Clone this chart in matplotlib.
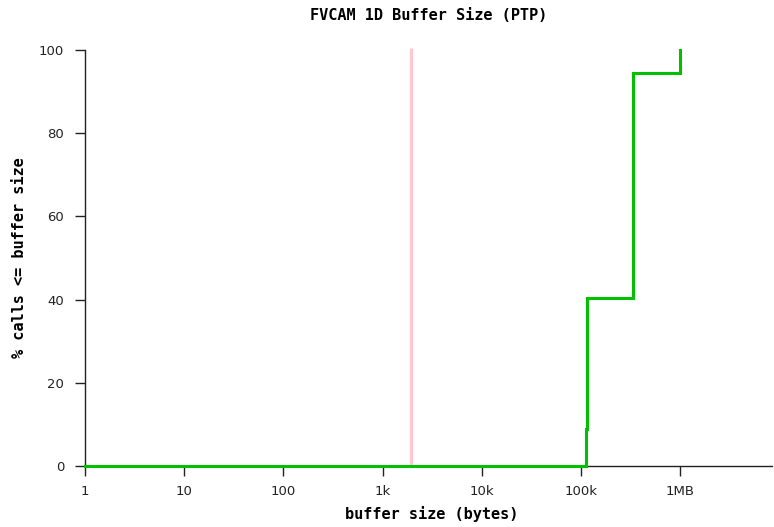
import matplotlib
matplotlib.use("Agg")
import matplotlib.pyplot as plt
from matplotlib.ticker import FixedLocator, NullLocator

# Cumulative distribution of buffer sizes (bytes -> % of calls <= size)
step_sizes = [1, 112000, 113500, 334000, 1000000, 1000000]
step_pct = [0.0, 9.0, 40.5, 94.5, 100.0]
marker_size = 1950  # reference buffer size

tick_values = [1, 10, 100, 1e3, 1e4, 1e5, 1e6]
tick_labels = ["1", "10", "100", "1k", "10k", "100k", "1MB"]
y_ticks = [0, 20, 40, 60, 80, 100]

x_max = 2 ** 23

W, H = 774, 527
fig = plt.figure(figsize=(W / 100, H / 100), dpi=100)
ax = fig.add_axes([85 / W, 1 - 466 / H, (772 - 85) / W, (466 - 50) / H])

ax.set_xscale("log")
ax.set_xlim(1, x_max)
ax.set_ylim(0, 100)

# Reference line
ax.plot([marker_size, marker_size], [0, 100.6], color="#ffc8cc", lw=2.3,
        solid_capstyle="butt", clip_on=False, zorder=2)

# Step CDF
xs, ys = [], []
for i, p in enumerate(step_pct):
    xs += [step_sizes[i], step_sizes[i + 1]]
    ys += [p, p]
ax.plot(xs[:-1] + [step_sizes[-1]], ys[:-1] + [step_pct[-1]],
        color="#00c000", lw=2.2, clip_on=False, zorder=3,
        solid_joinstyle="miter")

for s in ["top", "right"]:
    ax.spines[s].set_visible(False)
ax.spines["left"].set_bounds(0, 100)
for s in ["left", "bottom"]:
    ax.spines[s].set_linewidth(1.0)
    ax.spines[s].set_color("#222222")

ax.xaxis.set_major_locator(FixedLocator(tick_values))
ax.xaxis.set_minor_locator(NullLocator())
ax.set_xticklabels(tick_labels)
ax.set_yticks(y_ticks)
ax.tick_params(axis="both", direction="out", length=7, width=1.0,
               color="#222222", labelsize=9.5, labelcolor="#222222")
ax.tick_params(axis="y", pad=8)
ax.tick_params(axis="x", pad=7)

mono = dict(family="DejaVu Sans Mono", weight="bold", size=11)
fig.text((85 + 772) / 2 / W, 1 - 16 / H, "FVCAM 1D Buffer Size (PTP)",
         ha="center", va="center", **mono)
fig.text(432 / W, 1 - 514 / H, "buffer size (bytes)", ha="center",
         va="center", **mono)
fig.text(20 / W, 1 - 258 / H, "% calls <= buffer size", ha="center",
         va="center", rotation=90, **mono)

fig.savefig("out.png", dpi=100)
